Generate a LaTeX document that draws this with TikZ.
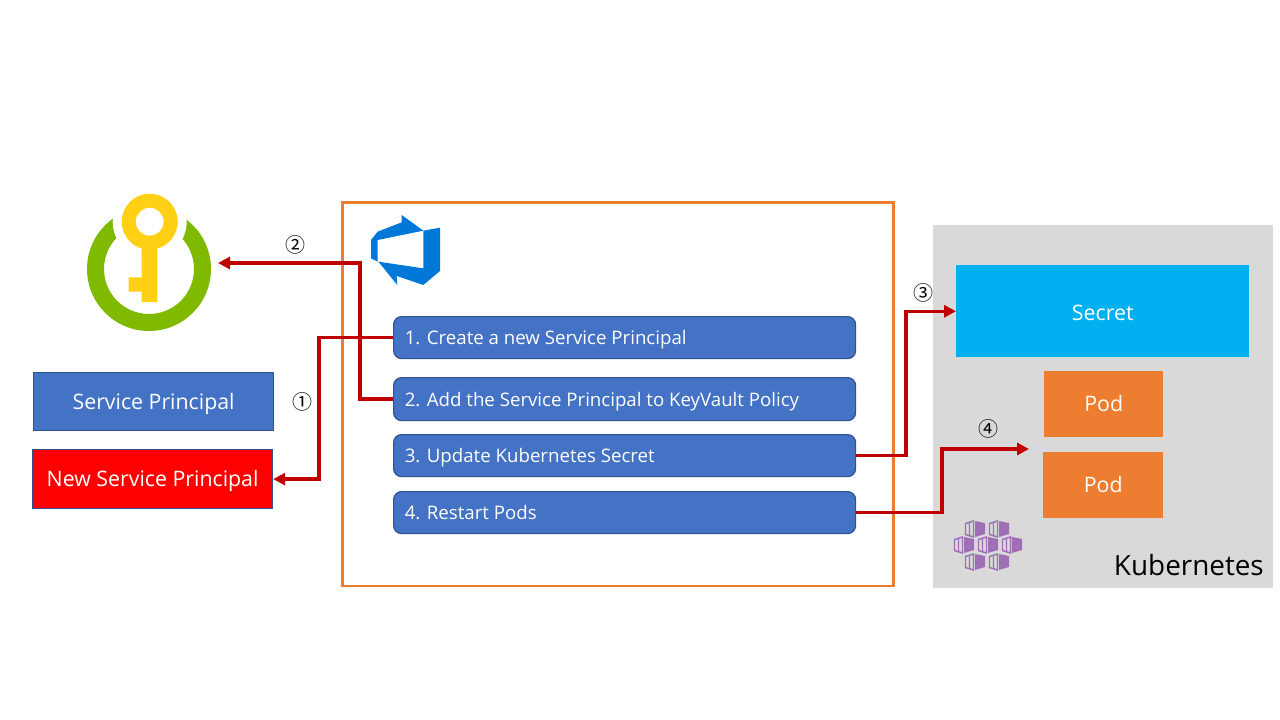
\documentclass[tikz,border=0pt]{standalone}
\usepackage{fontspec}
\setmainfont{Open Sans}
\newfontfamily\symf{Noto Sans CJK JP}
\usetikzlibrary{arrows.meta}
\definecolor{stepblue}{HTML}{4472C4}
\definecolor{stepedge}{HTML}{2F528F}
\definecolor{linkred}{HTML}{C00000}
\definecolor{frameor}{HTML}{ED7D31}
\definecolor{kgrey}{HTML}{D9D9D9}
\definecolor{secretblue}{HTML}{00B0F0}
\definecolor{ringgreen}{HTML}{7FBA00}
\definecolor{keygold}{HTML}{FFD014}
\definecolor{devops}{HTML}{0078D7}
\definecolor{kpurple}{HTML}{9F6FB6}
\tikzset{
  x=0.75pt,y=-0.75pt,
  stepbox/.style={draw=stepedge,line width=0.9pt,fill=stepblue,rounded corners=6pt,minimum width=346.5pt,minimum height=31.5pt,anchor=north west,inner sep=0pt},
  steptext/.style={anchor=west,text=white,font=\fontsize{14}{16}\selectfont,inner sep=0pt},
  legendbox/.style={draw=stepedge,line width=0.9pt,minimum width=180pt,minimum height=43.5pt,anchor=north west,text=white,font=\fontsize{16}{18}\selectfont,inner sep=0pt,text height=14pt,text depth=2.4pt},
  block/.style={anchor=north west,text=white,font=\fontsize{16}{18}\selectfont,inner sep=0pt},
  link/.style={draw=linkred,line width=2.6pt},
  linkarrow/.style={link,-{Triangle[length=9pt,width=9pt]}},
  numlabel/.style={font=\symf\fontsize{15}{18}\selectfont,inner sep=0pt},
  kcell/.pic={
    \fill[kpurple] (0,-8) -- (10,-6) -- (10,5) -- (0,8) -- cycle;
    \draw[kpurple,line width=1.1pt] (-9.5,-5.5) -- (-1.5,-8) -- (-1.5,8) -- (-9.5,5.5) -- cycle (-5.5,-6.5) -- (-5.5,6.5);
  }
}
\begin{document}
\begin{tikzpicture}
\useasboundingbox (0,0) rectangle (1280,720);
\fill[white] (0,0) rectangle (1280,720);
% panels
\node[draw=frameor,line width=2.2pt,minimum width=413.25pt,minimum height=287.25pt,anchor=north west,inner sep=0pt] (frame) at (341,201.5) {};
\node[fill=kgrey,minimum width=255pt,minimum height=272.25pt,anchor=north west,inner sep=0pt] (kpanel) at (933,225) {};
\node[fill=secretblue,minimum width=219.75pt,minimum height=69pt,block,text height=13.2pt,text depth=0pt] (secret) at (956,265) {Secret};
\node[fill=frameor,minimum width=89.25pt,minimum height=49.5pt,block] (pod1) at (1044,371) {\raisebox{0.75pt}{Pod}};
\node[fill=frameor,minimum width=90pt,minimum height=49.5pt,block] (pod2) at (1043,452) {\raisebox{0.75pt}{Pod}};
\node[anchor=east,inner sep=0pt,font=\fontsize{20.9}{24}\selectfont] (ktext) at (1264,565) {Kubernetes};
% steps
\node[stepbox] (s1) at (393,316) {};
\node[stepbox,minimum height=32.25pt] (s2) at (393,377) {};
\node[stepbox] (s3) at (393,434) {};
\node[stepbox] (s4) at (393,491) {};
\node[steptext] (t1) at (404.5,339.5) {1. Create a new Service Principal};
\node[steptext] (t2) at (404.5,401.5) {2. Add the Service Principal to KeyVault Policy};
\node[steptext] (t3) at (404.5,457.5) {3. Update Kubernetes Secret};
\node[steptext] (t4) at (404.5,513) {4. Restart Pods};
% legend
\node[legendbox,fill=stepblue] (sp) at (33,372) {Service Principal};
\node[legendbox,fill=red,minimum height=44.25pt] (nsp) at (32,449) {New Service Principal};
% key icon
\fill[ringgreen,even odd rule] (149,269) circle[radius=46.5pt] (149,269) circle[radius=33.75pt];
\fill[white] (149.7,221.7) circle[radius=27.75pt];
\fill[keygold,even odd rule] (149.7,221.7) circle[radius=21pt] (149.7,221.7) circle[radius=10.5pt];
\fill[keygold] (141.7,245) -- (157.3,245) -- (157.3,302) -- (141.7,302) -- (141.7,291.7) -- (128.7,291.7) -- (128.7,277.3) -- (141.7,277.3) -- cycle;
\coordinate (keyicon) at (218,263);
% devops icon
\begin{scope}[shift={(355,205)},x=0.25pt,y=-0.25pt]
\fill[devops] (48,105) -- (68,80) -- (140,52) -- (140,30) -- (205,77) -- (68,105) -- (68,170) -- (48,160) -- cycle;
\fill[devops] (70,170) -- (205,190) -- (205,77) -- (255,68) -- (255,198) -- (205,240) -- (125,213) -- (127,240) -- cycle;
\end{scope}
% kubernetes icon
\foreach \cx/\cy in {975/529,999/529,964/545,988/545,1012/545,975/562,999/562}
  \pic at (\cx,\cy) {kcell};
% connectors
\coordinate (j1) at (319,337);
\coordinate (j2) at (360,399);
\coordinate (j3) at (906,455);
\coordinate (j4) at (942,512);
\coordinate (p4) at (1029,449);
\draw[linkarrow] (s1.west) -- (s1.west -| j1) -- (j1 |- nsp.east) -- (nsp.east);
\draw[linkarrow] (s2.west) -- (s2.west -| j2) -- (j2 |- keyicon) -- (keyicon);
\draw[linkarrow] (s3.east) -- (s3.east -| j3) -- (j3 |- secret.west) -- (secret.west);
\draw[linkarrow] (s4.east) -- (s4.east -| j4) -- (j4 |- p4) -- (p4);
% numbers
\node[numlabel] (n1) at (302.5,401.5) {①};
\node[numlabel] (n2) at (295,245) {②};
\node[numlabel] (n3) at (923,292.5) {③};
\node[numlabel] (n4) at (988,429) {④};
\end{tikzpicture}
\end{document}
